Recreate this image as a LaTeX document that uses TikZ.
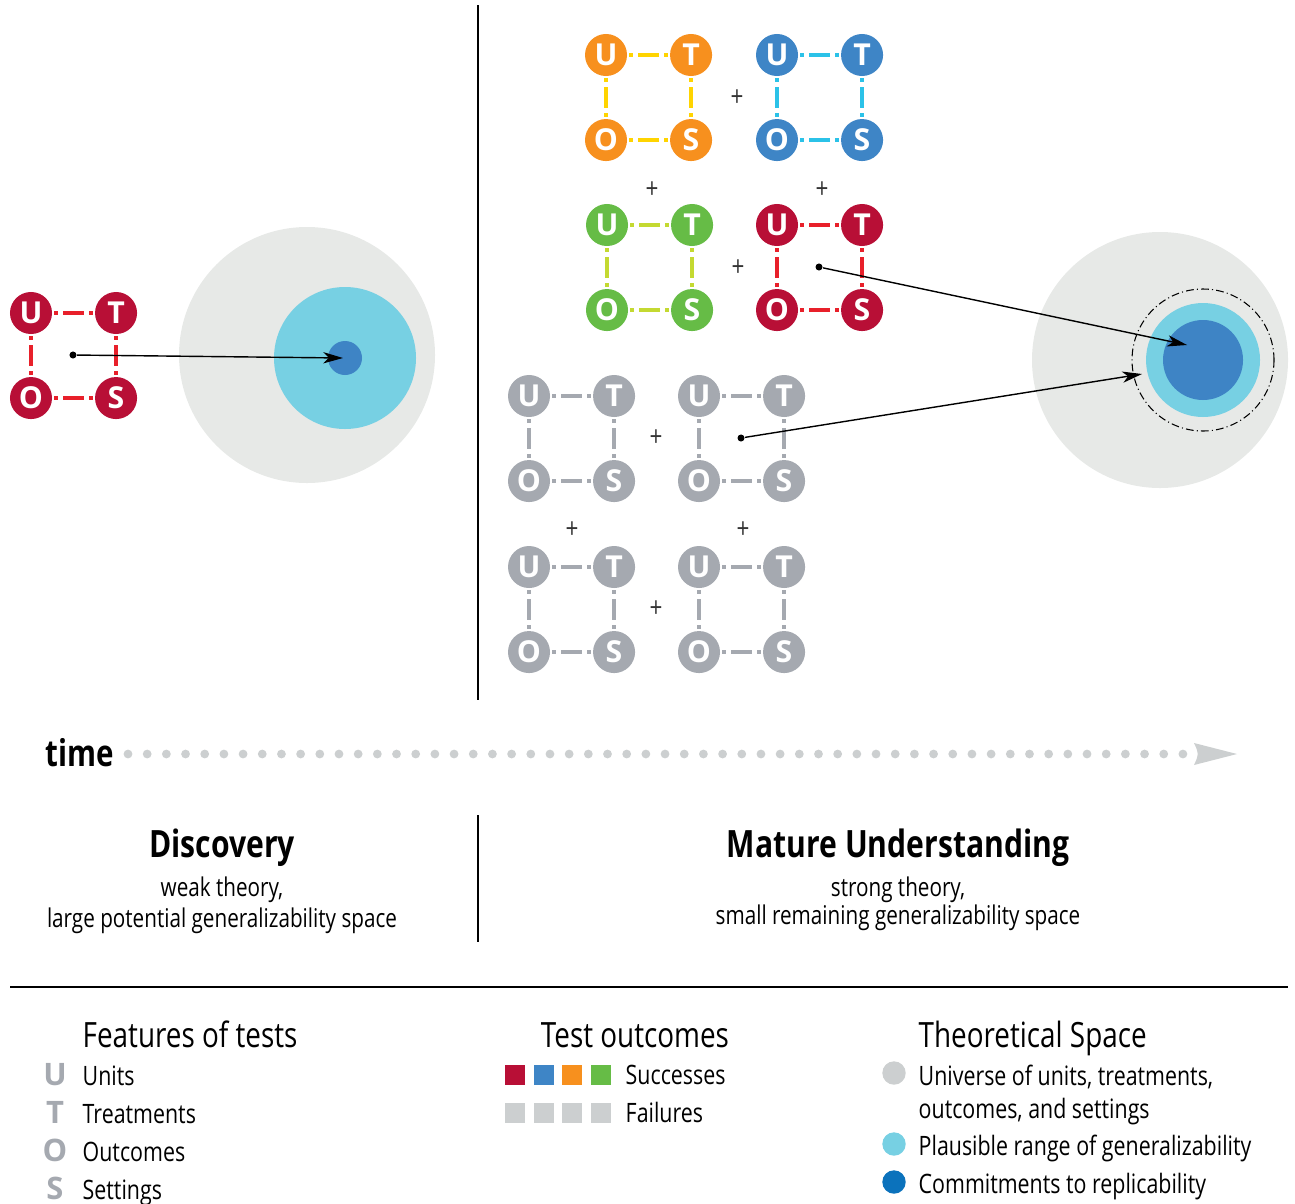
\documentclass[tikz,border=0pt]{standalone}
\usepackage{fontspec}
\setmainfont{Open Sans}[FakeStretch=0.8]
\newfontfamily\letterfont{Open Sans}
\usetikzlibrary{positioning,arrows.meta}

\definecolor{crimson}{HTML}{B80F36}
\definecolor{redDash}{HTML}{E8202A}
\definecolor{tangerine}{HTML}{F7901E}
\definecolor{yellowDash}{HTML}{FFD400}
\definecolor{steel}{HTML}{3E85C6}
\definecolor{cyanDash}{HTML}{2BC2E8}
\definecolor{leaf}{HTML}{66BC46}
\definecolor{limeDash}{HTML}{C4D931}
\definecolor{stone}{HTML}{A5A9B0}
\definecolor{universe}{HTML}{E7E9E7}
\definecolor{plausible}{HTML}{77D0E3}
\definecolor{commit}{HTML}{3E84C5}
\definecolor{fog}{HTML}{CCCFD0}
\definecolor{deepblue}{HTML}{0B72BC}

\tikzset{
  ball/.style={circle, fill=#1, text=white, inner sep=0pt, outer sep=0pt,
    minimum size=0.42cm, font=\letterfont\bfseries\fontsize{8.6}{8.6}\selectfont},
  link/.style={draw=#1, line width=1.15pt, shorten <=0.57pt, shorten >=0.57pt,
    dash pattern=on 1.14pt off 1.42pt on 5.97pt off 1.42pt},
  plus/.style={font=\fontsize{8}{8}\selectfont, text=black!80},
  ptr/.style={line width=0.4pt, -{Stealth[length=5.6pt,width=3.2pt,inset=1.6pt]}},
  srcdot/.style={circle, fill=black, inner sep=0pt, minimum size=2pt},
  rule/.style={line width=0.6pt},
  title/.style={font=\bfseries\fontsize{10.7}{12}\selectfont, anchor=base, inner sep=0pt},
  sub/.style={font=\fontsize{7.35}{9}\selectfont, anchor=base, inner sep=0pt},
  lhead/.style={font=\fontsize{9.9}{12}\selectfont, anchor=base west, inner sep=0pt},
  litem/.style={font=\fontsize{7.6}{9.4}\selectfont, anchor=base west, inner sep=0pt},
  lkey/.style={font=\letterfont\bfseries\fontsize{8.8}{9}\selectfont, text=stone, anchor=base, inner sep=0pt},
}

% one test: units, treatments, outcomes and settings on a square
\newcommand{\utos}[5]{%
  \node[ball=#4] (#1-u) at (#2,#3) {U};
  \node[ball=#4, right=0.43cm of #1-u] (#1-t) {T};
  \node[ball=#4, below=0.43cm of #1-u] (#1-o) {O};
  \node[ball=#4, right=0.43cm of #1-o] (#1-s) {S};
  \draw[link=#5] (#1-u) -- (#1-t);
  \draw[link=#5] (#1-u) -- (#1-o);
  \draw[link=#5] (#1-t) -- (#1-s);
  \draw[link=#5] (#1-o) -- (#1-s);
}

\begin{document}
\begin{tikzpicture}[x=0.01cm, y=-0.01cm]
\useasboundingbox (0,0) rectangle (1295,1203);

% discovery side
\fill[universe] (307,355) circle (128);
\fill[plausible] (345,358) circle (71);
\fill[commit] (345,358) circle (17);
\utos{dsc}{31}{313}{crimson}{redDash}
\node[srcdot] (dsc-dot) at (73,355) {};
\coordinate (dsc-tip) at (343,358);
\draw[ptr] (dsc-dot) -- (dsc-tip);

\draw[rule] (478,5) -- (478,700);

% mature side
\utos{org}{606}{55}{tangerine}{yellowDash}
\utos{blu}{777}{55}{steel}{cyanDash}
\utos{grn}{607}{225}{leaf}{limeDash}
\utos{red}{777}{225}{crimson}{redDash}
\utos{gra}{529}{396}{stone}{stone}
\utos{grb}{699}{396}{stone}{stone}
\utos{grc}{529}{567}{stone}{stone}
\utos{grd}{699}{567}{stone}{stone}
\node[plus] (p1) at (737,98) {+};
\node[plus] (p2) at (652,190) {+};
\node[plus] (p3) at (822,190) {+};
\node[plus] (p4) at (738,268) {+};
\node[plus] (p5) at (656,438) {+};
\node[plus] (p6) at (572,530) {+};
\node[plus] (p7) at (743,530) {+};
\node[plus] (p8) at (656,609) {+};

\fill[universe] (1160,360) circle (128);
\draw[line width=0.3pt, dash pattern=on 2.2pt off 0.9pt on 0.3pt off 0.9pt]
  (1203,360) circle (71);
\fill[plausible] (1203,360) circle (57);
\fill[commit] (1203,360) circle (40);
\node[srcdot] (red-dot) at (819,267) {};
\coordinate (red-tip) at (1187,345);
\draw[ptr] (red-dot) -- (red-tip);
\node[srcdot] (grb-dot) at (741,438) {};
\coordinate (grb-tip) at (1142,374);
\draw[ptr] (grb-dot) -- (grb-tip);

% time axis
\node[font=\bfseries\fontsize{10.5}{12}\selectfont, anchor=base west, inner sep=0pt] (time) at (45,766) {time};
\foreach \i in {0,...,55}
  \fill[fog] ({128+\i*19.18},754) circle (4.4);
\fill[fog] (1194,743) -- (1237,754) -- (1194,765) .. controls (1199,754) .. cycle;

% stages
\node[title] (dsc-title) at (222,857) {Discovery};
\node[sub] (dsc-sub1) at (222,896) {weak theory,};
\node[sub] (dsc-sub2) at (222,927) {large potential generalizability space};
\draw[rule] (478,815) -- (478,942);
\node[title] (mat-title) at (898,857) {Mature Understanding};
\node[sub] (mat-sub1) at (898,896) {strong theory,};
\node[sub] (mat-sub2) at (898,924) {small remaining generalizability space};

\draw[rule] (10,987) -- (1288,987);

% legend
\node[lhead] (feat) at (82,1047) {Features of tests};
\foreach \l/\t/\y in {U/Units/1085, T/Treatments/1123, O/Outcomes/1161, S/Settings/1199} {
  \node[lkey] (key-\l) at (55,\y) {\l};
  \node[litem] (item-\l) at (82,\y) {\t};
}

\node[lhead, anchor=base] (outc) at (635,1047) {Test outcomes};
\foreach \c [count=\i from 0] in {crimson,steel,tangerine,leaf} {
  \fill[\c] ({505+\i*28.7},1065) rectangle ++(20,20);
  \fill[fog] ({505+\i*28.7},1103) rectangle ++(20,20);
}
\node[litem] (succ) at (625,1084) {Successes};
\node[litem] (fail) at (625,1122) {Failures};

\node[lhead] (space) at (918,1047) {Theoretical Space};
\fill[fog] (894,1073) circle (11.7);
\fill[plausible] (894,1144) circle (11.7);
\fill[deepblue] (894,1182) circle (11.7);
\node[litem] (univ) at (918,1085) {Universe of units, treatments,};
\node[litem] (univ2) at (918,1118) {outcomes, and settings};
\node[litem] (plaus) at (918,1155) {Plausible range of generalizability};
\node[litem] (commit) at (918,1193) {Commitments to replicability};
\end{tikzpicture}
\end{document}
